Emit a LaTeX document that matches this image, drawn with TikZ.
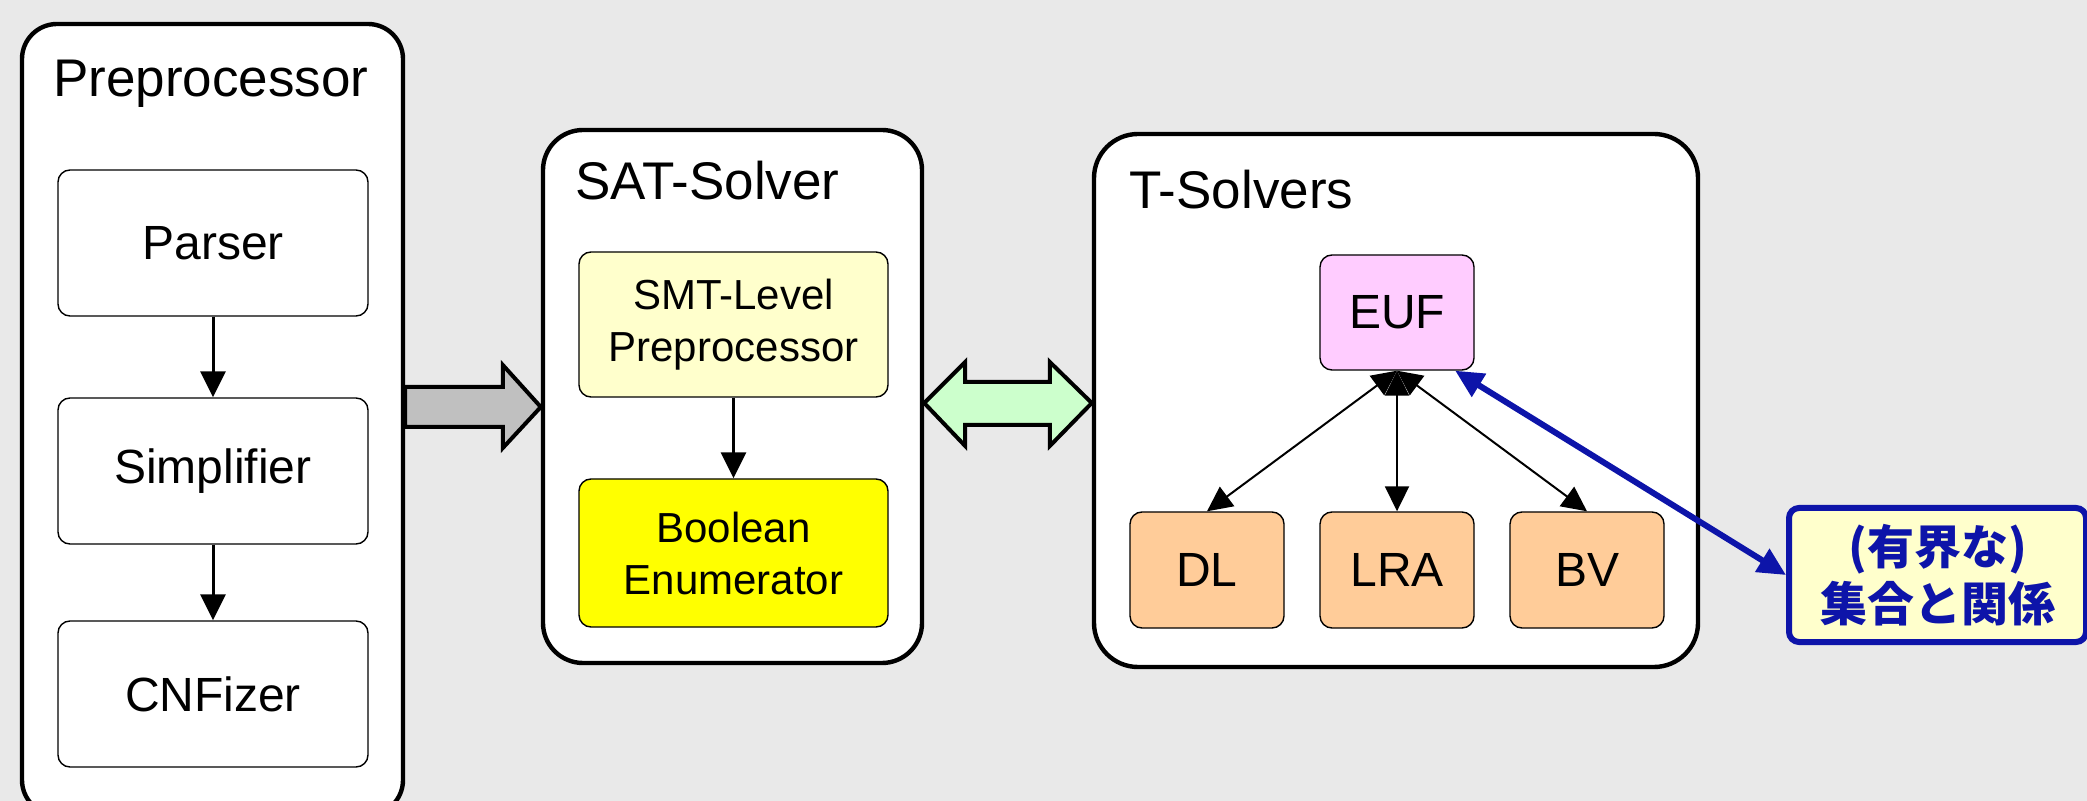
\documentclass[tikz,border=0pt]{standalone}
\usepackage{fontspec}
\setmainfont{Liberation Sans}
\newfontfamily\jpfont{Noto Sans CJK JP}
\usetikzlibrary{arrows.meta,calc}

\definecolor{bggray}{HTML}{E9E9E9}
\definecolor{arrowgray}{HTML}{C0C0C0}
\definecolor{mint}{HTML}{CCFFCC}
\definecolor{paleyellow}{HTML}{FFFFCC}
\definecolor{brightyellow}{HTML}{FFFF00}
\definecolor{pink}{HTML}{FFCCFF}
\definecolor{peach}{HTML}{FFCC99}
\definecolor{deepblue}{HTML}{0D14A9}

\begin{document}
\begin{tikzpicture}[x=0.5pt,y=-0.5pt,
  group/.style={draw=black, line width=2.2pt, fill=white, inner sep=0pt},
  grouptitle/.style={anchor=base west, inner sep=0pt, font=\fontsize{26.5}{30}\selectfont},
  module/.style={draw=black, line width=0.7pt, rounded corners=6pt, inner sep=0pt,
    align=center, font=\fontsize{24}{29}\selectfont},
  satmodule/.style={module, minimum width=154.5pt, font=\fontsize{21}{26}\selectfont},
  theory/.style={module, minimum width=77pt, minimum height=58pt, fill=peach},
  flow/.style={draw=black, line width=1.5pt, -{Triangle[length=13pt,width=12.5pt]}},
  link/.style={draw=black, line width=1pt, {Triangle[length=12.5pt,width=12pt]}-{Triangle[length=12.5pt,width=12pt]}},
  blockarrow/.style={draw=black, line width=2pt, line join=miter},
  note/.style={draw=deepblue, line width=3pt, fill=paleyellow, rounded corners=5pt, inner sep=0pt,
    align=center, text=deepblue, font=\jpfont\bfseries\fontsize{23.5}{28.5}\selectfont},
  noteline/.style={draw=deepblue, line width=3pt,
    {Triangle[length=14pt,width=13pt]}-{Triangle[length=14pt,width=13pt]}}
]
\useasboundingbox (0,0) rectangle (2087,801);
\fill[bggray] (0,0) rectangle (2087,801);

% --- grouping boxes ---
\node[group, rounded corners=17.5pt, minimum width=190.5pt, minimum height=395.5pt] (pre) at (212.5,419.5) {};
\node[group, rounded corners=20pt, minimum width=189.5pt, minimum height=266.5pt] (sat) at (732.5,396.5) {};
\node[group, rounded corners=22pt, minimum width=302pt, minimum height=266.5pt] (tsol) at (1396,400.5) {};

\node[grouptitle] (preT) at (53,97) {Preprocessor};
\node[grouptitle] (satT) at (575,200) {SAT-Solver};
\node[grouptitle] (tsolT) at (1129,209) {T-Solvers};

% --- preprocessor stages ---
\node[module, fill=white, minimum width=155pt, minimum height=73pt] (parser) at (213,243) {Parser};
\node[module, fill=white, minimum width=155pt, minimum height=73pt] (simp) at (213,471) {Simplifier};
\node[module, fill=white, minimum width=155pt, minimum height=73pt] (cnf) at (213,694) {CNFizer};
\draw[flow] (parser.south) -- (simp.north);
\draw[flow] (simp.south) -- (cnf.north);

% --- SAT solver parts ---
\node[satmodule, fill=paleyellow, minimum height=72.5pt] (smt) at (733.5,324.5) {SMT-Level\\Preprocessor};
\node[satmodule, fill=brightyellow, minimum height=74pt] (bool) at (733.5,553) {Boolean\\Enumerator};
\draw[flow] (smt.south) -- (bool.north);

% --- theory solvers ---
\node[module, fill=pink, minimum width=77pt, minimum height=57.5pt] (euf) at (1397,312.5) {EUF};
\node[theory] (dl) at (1207,570) {DL};
\node[theory] (lra) at (1397,570) {LRA};
\node[theory] (bv) at (1587,570) {BV};
\draw[link] (euf.south) -- (dl.north);
\draw[link] (euf.south) -- (lra.north);
\draw[link] (euf.south) -- (bv.north);

% --- block arrows between the stages ---
\coordinate (gs) at (pre.east |- 0,407);
\coordinate (ge) at (sat.west |- 0,407);
\filldraw[blockarrow, fill=arrowgray]
  (gs) ++(0,-20) -- ($(ge)+(-38,-20)$) -- ($(ge)+(-38,-42)$) -- (ge)
  -- ($(ge)+(-38,41)$) -- ($(ge)+(-38,20)$) -- ($(gs)+(0,20)$) -- cycle;

\coordinate (ga) at (sat.east |- 0,403);
\coordinate (gb) at (tsol.west |- 0,403);
\filldraw[blockarrow, fill=mint]
  (ga) -- ($(ga)+(41,-41)$) -- ($(ga)+(41,-21)$) -- ($(gb)+(-42,-21)$)
  -- ($(gb)+(-42,-41)$) -- (gb) -- ($(gb)+(-42,43)$) -- ($(gb)+(-42,22)$)
  -- ($(ga)+(41,22)$) -- ($(ga)+(41,43)$) -- cycle;

% --- annotation ---
\node[note, minimum width=148.5pt, minimum height=67pt] (note) at (1937.5,575) {(有界な)\\集合と関係};
\draw[noteline] (euf.-45) -- (note.west);
\end{tikzpicture}
\end{document}
